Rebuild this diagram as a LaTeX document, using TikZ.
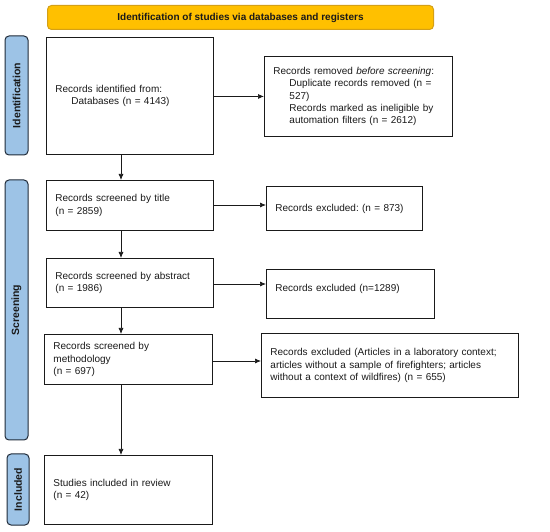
\documentclass[tikz,border=0pt]{standalone}
\usepackage{fontspec}
\setmainfont{Liberation Sans}
\frenchspacing
\usetikzlibrary{arrows.meta}
\definecolor{ybox}{HTML}{FFC000}
\definecolor{yborder}{HTML}{D4A017}
\definecolor{bbox}{HTML}{9DC3E6}
\definecolor{bborder}{HTML}{1F2A38}
\definecolor{ink}{HTML}{1A1A1A}
\tikzset{
  x=1pt, y=-1pt,
  stagebox/.style={draw=ink, line width=0.9pt, fill=white, anchor=north west, inner xsep=9pt, inner ysep=0pt, align=left, font=\fontsize{10}{12.3}\selectfont, text=ink},
  sidebox/.style={draw=bborder, line width=1pt, fill=bbox, rounded corners=4pt, anchor=center, rotate=90, inner sep=0pt, font=\bfseries\fontsize{10.5}{12}\selectfont, text=ink},
  flow/.style={draw=ink, line width=0.7pt, -{Latex[length=6pt,width=5pt]}}
}
\newcommand{\ind}{\hspace*{16pt}}
\begin{document}
\begin{tikzpicture}
\useasboundingbox (0,0) rectangle (550,532);
% header
\node[draw=yborder, line width=1pt, fill=ybox, rounded corners=4pt, anchor=north west, minimum width=386pt, minimum height=24pt, inner sep=0pt, font=\bfseries\fontsize{10}{12}\selectfont, text=ink] (head) at (47,5) {Identification of studies via databases and registers};
% side labels
\node[sidebox, minimum width=119pt, minimum height=23pt] (sid) at (16.5,95.5) {Identification};
\node[sidebox, minimum width=260pt, minimum height=23pt] (sscr) at (16.5,310) {Screening};
\node[sidebox, minimum width=71pt, minimum height=22pt] (sinc) at (18,489.5) {Included};
% main boxes
\node[stagebox, text width=149pt, minimum height=117pt] (ident) at (46,37) {Records identified from:\\\ind Databases (n = 4143)};
\node[stagebox, text width=170pt, minimum height=80pt] (removed) at (264,56) {Records removed \emph{before screening}:\\\ind Duplicate records removed (n =\\\ind 527)\\\ind Records marked as ineligible by\\\ind automation filters (n = 2612)};
\node[stagebox, text width=149pt, minimum height=50pt] (title) at (46,180) {Records screened by title\\(n = 2859)};
\node[stagebox, text width=138pt, minimum height=44pt] (ex1) at (266,186) {Records excluded: (n = 873)};
\node[stagebox, text width=149pt, minimum height=49pt] (abstract) at (46,258) {Records screened by abstract\\(n = 1986)};
\node[stagebox, text width=150pt, minimum height=49pt] (ex2) at (266,269) {Records excluded (n=1289)\\\mbox{}};
\node[stagebox, text width=150pt, minimum height=50pt] (method) at (44,334) {Records screened by\\methodology\\(n = 697)};
\node[stagebox, text width=239pt, minimum height=64pt] (ex3) at (261,333) {Records excluded (Articles in a laboratory context;\\articles without a sample of firefighters; articles\\without a context of wildfires) (n = 655)};
\node[stagebox, text width=150pt, minimum height=69pt] (incl) at (44,455) {Studies included in review\\(n = 42)};
% connectors
\draw[flow] (ident.east |- removed.west) -- (removed.west);
\draw[flow] (ident.south -| 121,0) -- (title.north -| 121,0);
\draw[flow] (title.east |- 0,205) -- (ex1.west |- 0,205);
\draw[flow] (title.south -| 121,0) -- (abstract.north -| 121,0);
\draw[flow] (abstract.east |- 0,284) -- (ex2.west |- 0,284);
\draw[flow] (abstract.south -| 121,0) -- (method.north -| 121,0);
\draw[flow] (method.east |- 0,361) -- (ex3.west |- 0,361);
\draw[flow] (method.south -| 121,0) -- (incl.north -| 121,0);
\end{tikzpicture}
\end{document}
